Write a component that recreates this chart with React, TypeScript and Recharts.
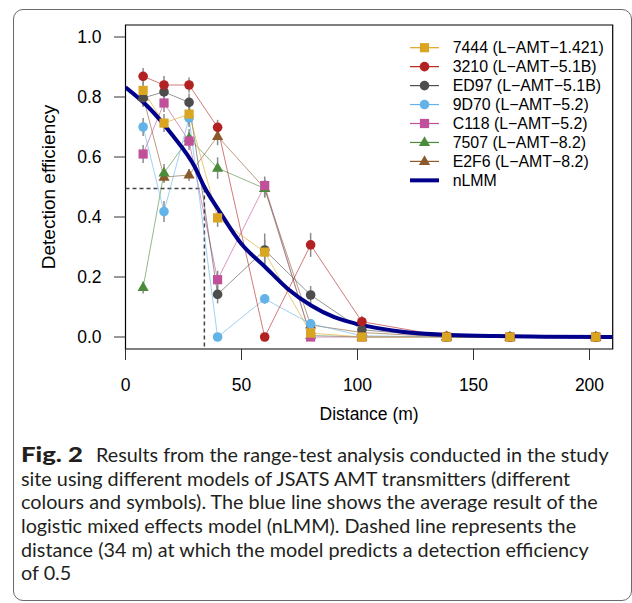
import React from 'react';
import { ComposedChart, Line, XAxis, YAxis, ReferenceLine, ReferenceArea, ErrorBar } from 'recharts';

// ---- data ----
const distances = [7.6, 16.6, 27.4, 39.7, 60, 79.8, 101.9, 138.4, 165.7, 202.7];

const seriesNames = [
  '7444 (L\u2212AMT\u22121.421)',
  '3210 (L\u2212AMT\u22125.1B)',
  'ED97 (L\u2212AMT\u22125.1B)',
  '9D70 (L\u2212AMT\u22125.2)',
  'C118 (L\u2212AMT\u22125.2)',
  '7507 (L\u2212AMT\u22128.2)',
  'E2F6 (L\u2212AMT\u22128.2)',
];
const seriesColors = ['#DAA520', '#B22222', '#4D4D4D', '#63B3E8', '#C0509A', '#4B8B3B', '#8B5A2B'];
const seriesShapes = ['square', 'circle', 'circle', 'circle', 'square', 'triangle', 'triangle'];

const s7444 = [0.822, 0.713, 0.743, 0.397, 0.283, 0.013, 0, 0, 0, 0];
const s3210 = [0.869, 0.84, 0.84, 0.699, 0, 0.307, 0.051, 0.002, 0, 0];
const sED97 = [0.797, 0.817, 0.782, 0.142, 0.29, 0.14, 0.024, 0, 0, 0];
const s9D70 = [0.7, 0.418, 0.73, 0, 0.127, 0.044, 0.004, 0, 0, 0];
const sC118 = [0.61, 0.78, 0.653, 0.191, 0.505, 0, 0, 0, 0, 0];
const s7507 = [0.165, 0.547, 0.663, 0.563, 0.495, 0.005, 0, 0.001, 0, 0];
const sE2F6 = [0.8, 0.533, 0.54, 0.669, 0.495, 0.04, 0.015, 0, 0, 0];

const e7444 = [0.03, 0.03, 0.035, 0.03, 0.04, 0.01, 0, 0, 0, 0];
const e3210 = [0.028, 0.03, 0.025, 0.025, 0, 0.04, 0.02, 0, 0, 0];
const eED97 = [0.03, 0.03, 0.03, 0.03, 0.055, 0.03, 0.01, 0, 0, 0];
const e9D70 = [0.03, 0.035, 0.03, 0, 0.015, 0.01, 0, 0, 0, 0];
const eC118 = [0.03, 0.03, 0.03, 0.03, 0.03, 0, 0, 0, 0, 0];
const e7507 = [0.02, 0.03, 0.03, 0.036, 0.03, 0, 0, 0, 0, 0];
const eE2F6 = [0.03, 0.02, 0.02, 0.03, 0.03, 0.01, 0, 0, 0, 0];

const seriesValues = [s7444, s3210, sED97, s9D70, sC118, s7507, sE2F6];
const seriesErrors = [e7444, e3210, eED97, e9D70, eC118, e7507, eE2F6];

const nlmmX = [0, 10, 20, 30, 34, 40, 50, 60, 70, 80, 90, 100, 110, 120, 140, 160, 180, 210];
const nlmmY = [0.832, 0.765, 0.675, 0.565, 0.5, 0.425, 0.31, 0.235, 0.16, 0.105, 0.066, 0.043, 0.028, 0.017, 0.007, 0.003, 0.0012, 0.0003];

const xTicks = [0, 50, 100, 150, 200];
const yTicks = [0, 0.2, 0.4, 0.6, 0.8, 1.0];
const cutoffDistance = 34;
const cutoffEfficiency = 0.495;

const captionLabel = 'Fig. 2';
const captionLines = [
  'Results from the range-test analysis conducted in the study',
  'site using different models of JSATS AMT transmitters (different',
  'colours and symbols). The blue line shows the average result of the',
  'logistic mixed effects model (nLMM). Dashed line represents the',
  'distance (34 m) at which the model predicts a detection efficiency',
  'of 0.5',
];

// ---- rendering ----
const AXIS_FONT = "'Liberation Sans', Arial, Helvetica, sans-serif";
const CAPTION_FONT = "Lato, 'Open Sans', sans-serif";

function Marker({ shape, color, cx, cy }: { shape: string; color: string; cx: number; cy: number }) {
  if (shape === 'square') return <rect x={cx - 4.6} y={cy - 4.6} width={9.2} height={9.2} fill={color} />;
  if (shape === 'circle') return <circle cx={cx} cy={cy} r={4.8} fill={color} />;
  return <polygon points={`${cx},${cy - 6.2} ${cx - 5.6},${cy + 3.6} ${cx + 5.6},${cy + 3.6}`} fill={color} />;
}

const makeDot = (shape: string, color: string) => (props: any) => {
  const { cx, cy, index } = props;
  if (cx == null || cy == null) return <g key={`d${index}`} />;
  return (
    <g key={`d${index}`}>
      <Marker shape={shape} color={color} cx={cx} cy={cy} />
    </g>
  );
};

export default function App() {
  const seriesData = seriesValues.map((vals, si) =>
    distances.map((x, i) => ({ x, y: vals[i], e: seriesErrors[si][i] }))
  );
  const nlmmData = nlmmX.map((x, i) => ({ x, y: nlmmY[i] }));
  const drawOrder = [6, 5, 4, 3, 2, 1, 0];

  const legendTop = 47.7;
  const legendStep = 18.95;

  return (
    <div style={{ position: 'absolute', left: 0, top: 0, width: 632, height: 603, background: '#fff', overflow: 'hidden' }}>
      <div
        style={{
          position: 'absolute',
          left: 13,
          top: 9,
          width: 619,
          height: 592,
          border: '1.3px solid #6a6a6c',
          borderRadius: 10,
          boxSizing: 'border-box',
        }}
      />
      <div style={{ position: 'absolute', left: 0, top: 0 }}>
        <ComposedChart width={632} height={430} margin={{ top: 25, right: 19.3, left: 0, bottom: 1 }}>
          <XAxis
            type="number"
            dataKey="x"
            domain={[0, 210]}
            ticks={xTicks}
            allowDataOverflow
            axisLine={false}
            tickSize={11}
            tickMargin={19}
            height={80}
            tickLine={{ stroke: '#333', strokeWidth: 1 }}
            tick={{ fill: '#000', fontSize: 17.5, fontFamily: AXIS_FONT }}
            label={{
              value: 'Distance (m)',
              position: 'insideBottom',
              offset: 9,
              style: { fill: '#000', fontSize: 17.5, fontFamily: AXIS_FONT },
            }}
          />
          <YAxis
            type="number"
            domain={[-0.04, 1.04]}
            ticks={yTicks}
            allowDataOverflow
            axisLine={false}
            width={125.5}
            tickSize={11.5}
            tickMargin={12.5}
            tickFormatter={(v: number) => v.toFixed(1)}
            tickLine={{ stroke: '#333', strokeWidth: 1 }}
            tick={{ fill: '#000', fontSize: 17.5, fontFamily: AXIS_FONT }}
            label={{
              value: 'Detection efficiency',
              angle: -90,
              position: 'insideLeft',
              offset: 48,
              style: { textAnchor: 'middle', fill: '#000', fontSize: 19, fontFamily: AXIS_FONT },
            }}
          />
          <ReferenceArea
            x1={0}
            x2={210}
            y1={-0.04}
            y2={1.04}
            fill="none"
            fillOpacity={0}
            stroke="#000"
            strokeWidth={1.2}
            ifOverflow="visible"
          />
          <ReferenceLine
            segment={[
              { x: 0, y: cutoffEfficiency },
              { x: cutoffDistance, y: cutoffEfficiency },
            ]}
            stroke="#444"
            strokeWidth={1.5}
            strokeDasharray="4 3"
            ifOverflow="visible"
          />
          <ReferenceLine
            segment={[
              { x: cutoffDistance, y: cutoffEfficiency },
              { x: cutoffDistance, y: -0.04 },
            ]}
            stroke="#444"
            strokeWidth={1.5}
            strokeDasharray="4 3"
            ifOverflow="visible"
          />
          {drawOrder.map((si) => (
            <Line
              key={seriesNames[si]}
              data={seriesData[si]}
              dataKey="y"
              type="linear"
              stroke={seriesColors[si]}
              strokeOpacity={0.6}
              strokeWidth={1}
              dot={makeDot(seriesShapes[si], seriesColors[si])}
              activeDot={false}
              isAnimationActive={false}
              legendType="none"
            >
              <ErrorBar dataKey="e" direction="y" width={0} stroke="#8c8c8c" strokeWidth={1.5} />
            </Line>
          ))}
          <Line
            data={nlmmData}
            dataKey="y"
            type="monotone"
            stroke="#00008B"
            strokeWidth={4}
            dot={false}
            activeDot={false}
            isAnimationActive={false}
            legendType="none"
          />
        </ComposedChart>
      </div>

      <svg style={{ position: 'absolute', left: 0, top: 0 }} width={632} height={200}>
        {seriesNames.map((name, i) => {
          const cy = legendTop + i * legendStep;
          return (
            <g key={name}>
              <line x1={410} x2={439} y1={cy} y2={cy} stroke={seriesColors[i]} strokeWidth={1.2} />
              <Marker shape={seriesShapes[i]} color={seriesColors[i]} cx={424.5} cy={cy} />
              <text x={452.7} y={cy + 5.6} fontSize={15.9} fontFamily={AXIS_FONT} fill="#000">
                {name}
              </text>
            </g>
          );
        })}
        <g>
          <line
            x1={410}
            x2={439}
            y1={legendTop + 7 * legendStep}
            y2={legendTop + 7 * legendStep}
            stroke="#00008B"
            strokeWidth={4}
          />
          <text x={452.7} y={legendTop + 7 * legendStep + 5.6} fontSize={15.9} fontFamily={AXIS_FONT} fill="#000">
            nLMM
          </text>
        </g>
      </svg>

      <svg style={{ position: 'absolute', left: 0, top: 430 }} width={632} height={173}>
        {captionLines.map((line, i) => (
          <text key={i} x={21} y={32.3 + i * 23.55} fontSize={19.8} fontFamily={CAPTION_FONT} fill="#231F20">
            {i === 0 ? (
              <>
                <tspan fontWeight={900} fontSize={21} textLength={62} lengthAdjust="spacingAndGlyphs">
                  {captionLabel}
                </tspan>
                <tspan x={96}>{line}</tspan>
              </>
            ) : (
              line
            )}
          </text>
        ))}
      </svg>
    </div>
  );
}
